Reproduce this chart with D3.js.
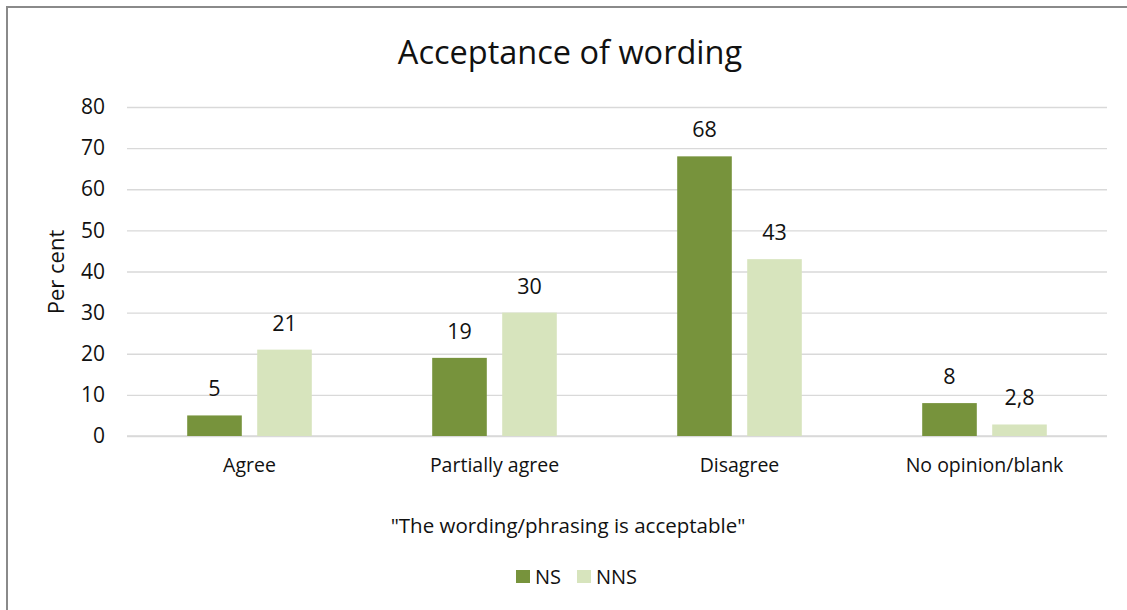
<!DOCTYPE html>
<html>
<head>
<meta charset="utf-8">
<script src="https://cdn.jsdelivr.net/npm/d3@7"></script>
<style>
  html, body { margin: 0; padding: 0; background: #fff; }
  svg { display: block; font-family: "Open Sans", sans-serif; }
</style>
</head>
<body>
<svg id="chart" width="1127" height="610"></svg>
<script>
// Survey responses, per cent
const categories = ["Agree", "Partially agree", "Disagree", "No opinion/blank"];
const seriesNames = ["NS", "NNS"];
const nsValues = [5, 19, 68, 8];
const nnsValues = [21, 30, 43, 2.8];
const nsLabels = ["5", "19", "68", "8"];
const nnsLabels = ["21", "30", "43", "2,8"];
const yTicks = [0, 10, 20, 30, 40, 50, 60, 70, 80];

const colors = { NS: "#77933C", NNS: "#D7E4BD" };

const svg = d3.select("#chart");
const W = 1127, H = 610;
const plot = { left: 127, right: 1107, top: 107, bottom: 436 };

// chart frame (runs past the right and bottom edges)
svg.append("rect")
  .attr("x", 7).attr("y", 7)
  .attr("width", W + 20).attr("height", H + 20)
  .attr("fill", "#fff").attr("stroke", "#8a8a8a").attr("stroke-width", 2);

const x0 = d3.scaleBand().domain(categories).range([plot.left, plot.right]).padding(0);
const groupW = 124.6;
const x1 = d3.scaleBand().domain(seriesNames).range([0, groupW]).paddingInner(0.22).paddingOuter(0);
const y = d3.scaleLinear().domain([0, 80]).range([plot.bottom, plot.top]);

// gridlines + tick labels
const yAxis = d3.axisLeft(y).tickValues(yTicks).tickSize(-(plot.right - plot.left)).tickPadding(22);
const gy = svg.append("g").attr("transform", `translate(${plot.left},0)`).call(yAxis);
gy.select(".domain").remove();
gy.selectAll(".tick line").attr("stroke", "#d9d9d9").attr("stroke-width", 1.3);
gy.selectAll(".tick text")
  .attr("font-size", 21).attr("fill", "#111").attr("font-family", "Open Sans, sans-serif");

// x axis line
svg.append("line")
  .attr("x1", plot.left).attr("x2", plot.right)
  .attr("y1", y(0)).attr("y2", y(0))
  .attr("stroke", "#d9d9d9").attr("stroke-width", 1.3);

const rows = categories.map((c, i) => ({
  cat: c,
  vals: [
    { s: "NS", v: nsValues[i], label: nsLabels[i] },
    { s: "NNS", v: nnsValues[i], label: nnsLabels[i] }
  ]
}));

const groups = svg.append("g").selectAll("g").data(rows).join("g")
  .attr("transform", d => `translate(${x0(d.cat) + (x0.bandwidth() - groupW) / 2},0)`);

groups.selectAll("rect").data(d => d.vals).join("rect")
  .attr("x", d => x1(d.s))
  .attr("y", d => y(d.v))
  .attr("width", x1.bandwidth())
  .attr("height", d => y(0) - y(d.v))
  .attr("fill", d => colors[d.s]);

groups.selectAll("text").data(d => d.vals).join("text")
  .attr("x", d => x1(d.s) + x1.bandwidth() / 2)
  .attr("y", d => y(d.v) - 19)
  .attr("text-anchor", "middle")
  .attr("font-size", 21.5).attr("fill", "#111")
  .text(d => d.label);

// category labels
svg.append("g").selectAll("text").data(categories).join("text")
  .attr("x", d => x0(d) + x0.bandwidth() / 2)
  .attr("y", 472)
  .attr("text-anchor", "middle")
  .attr("font-size", 19.5).attr("fill", "#111")
  .text(d => d);

// title
svg.append("text")
  .attr("x", 570).attr("y", 64)
  .attr("text-anchor", "middle")
  .attr("font-size", 32.5).attr("fill", "#111")
  .text("Acceptance of wording");

// axis titles
svg.append("text")
  .attr("transform", `translate(64,272) rotate(-90)`)
  .attr("text-anchor", "middle")
  .attr("font-size", 22).attr("fill", "#111")
  .text("Per cent");

svg.append("text")
  .attr("x", 568).attr("y", 533)
  .attr("text-anchor", "middle")
  .attr("font-size", 20.5).attr("fill", "#111")
  .text("\"The wording/phrasing is acceptable\"");

// legend
const legend = svg.append("g");
const legendItems = [
  { s: "NS", x: 516 },
  { s: "NNS", x: 577 }
];
legend.selectAll("rect").data(legendItems).join("rect")
  .attr("x", d => d.x).attr("y", 570)
  .attr("width", 14).attr("height", 13)
  .attr("fill", d => colors[d.s]);
legend.selectAll("text").data(legendItems).join("text")
  .attr("x", d => d.x + 19).attr("y", 584)
  .attr("font-size", 20).attr("fill", "#111")
  .text(d => d.s);
</script>
</body>
</html>
